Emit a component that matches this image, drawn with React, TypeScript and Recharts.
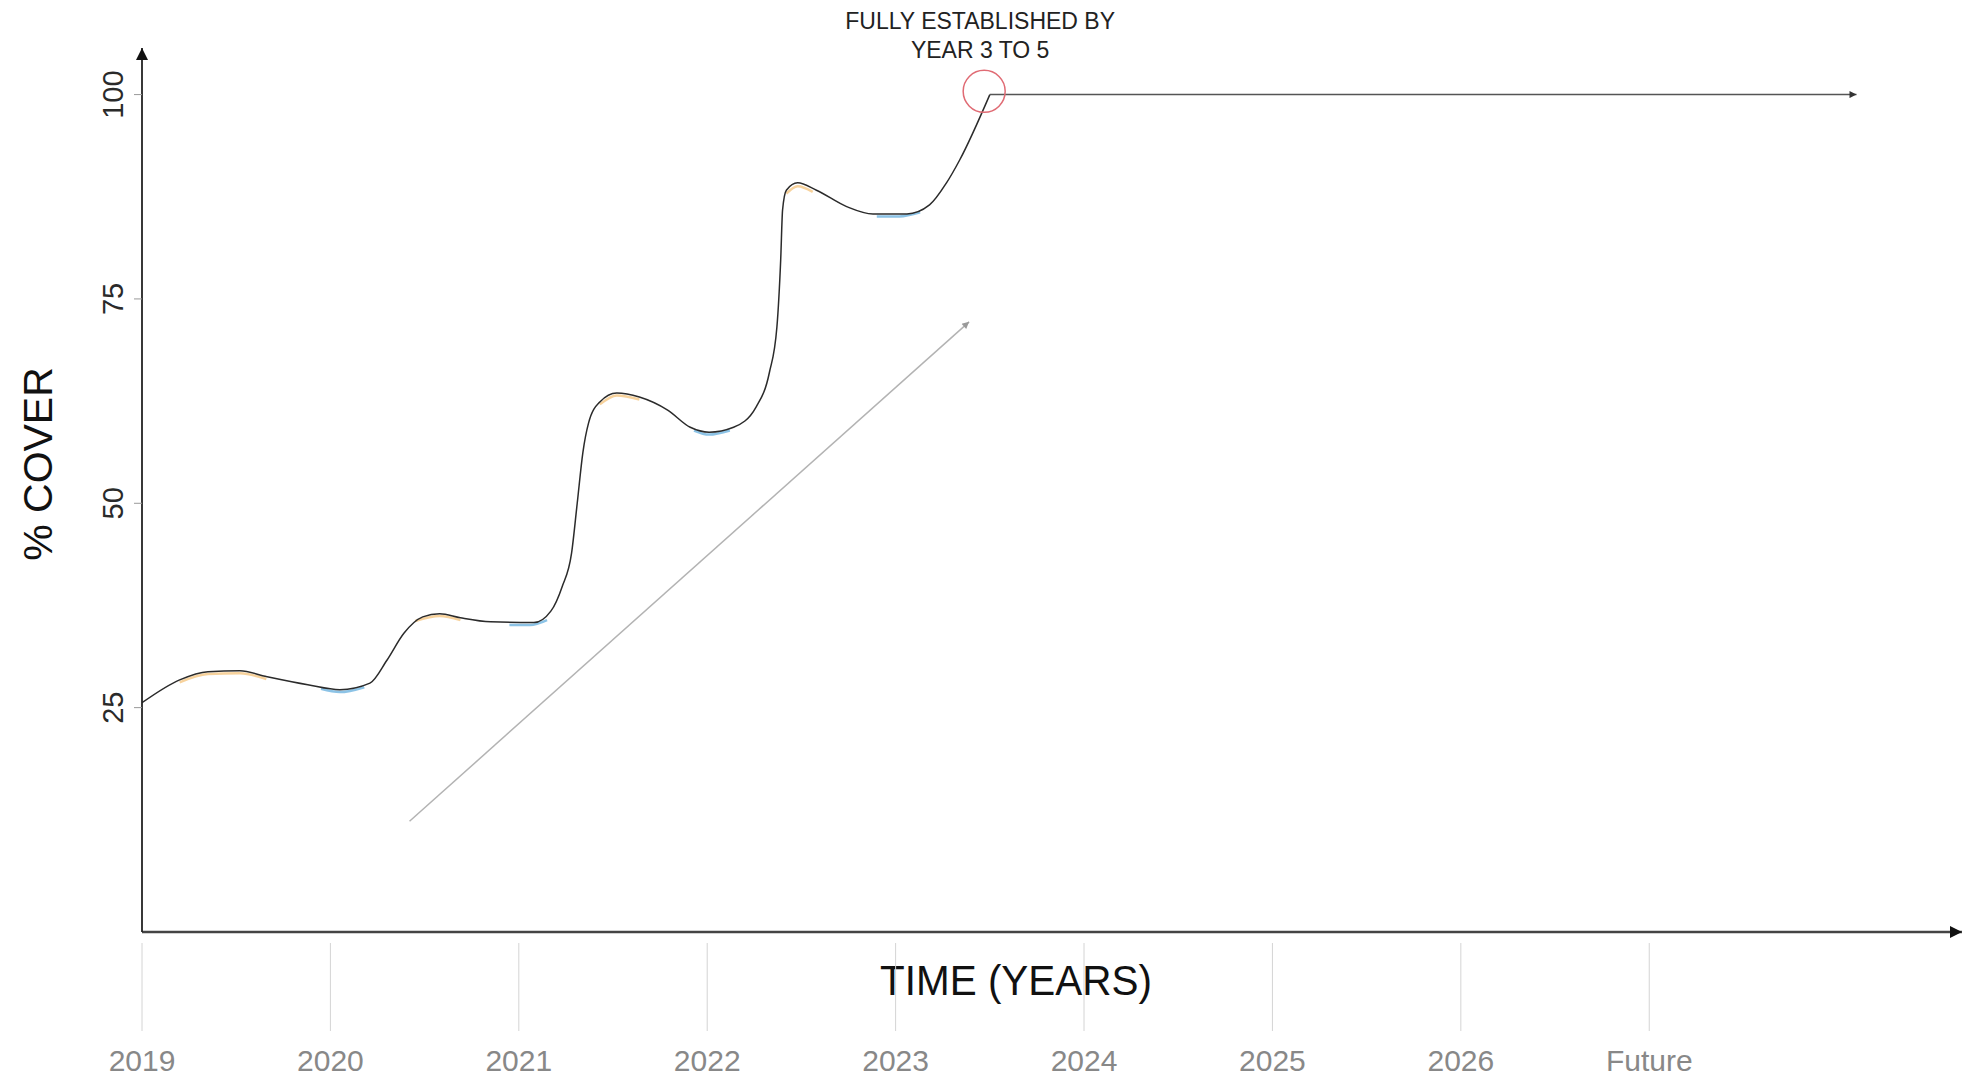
import { LineChart, Line, XAxis, YAxis, ReferenceDot, Label } from 'recharts';

// x axis: years, last slot is labelled "Future"
const yearTicks = [2019, 2020, 2021, 2022, 2023, 2024, 2025, 2026, 2027];
const yearLabels = ['2019', '2020', '2021', '2022', '2023', '2024', '2025', '2026', 'Future'];
const coverTicks = [25, 50, 75, 100];

// main cover curve
const curveTime = [
	2019.0, 2019.2, 2019.35, 2019.52, 2019.66, 2019.88, 2020.05, 2020.21, 2020.3, 2020.39,
	2020.49, 2020.58, 2020.69, 2020.85, 2021.08, 2021.17, 2021.23, 2021.28, 2021.31, 2021.34,
	2021.37, 2021.43, 2021.52, 2021.64, 2021.79, 2021.91, 2022.01, 2022.14, 2022.26, 2022.33,
	2022.37, 2022.39, 2022.4, 2022.42, 2022.48, 2022.58, 2022.74, 2022.88, 2023.06, 2023.18,
	2023.27, 2023.34, 2023.5,
];
const curveCover = [
	25.6, 28.4, 29.4, 29.5, 28.8, 27.8, 27.2, 28.0, 30.8, 34.1,
	36.1, 36.5, 36.0, 35.5, 35.4, 36.8, 39.8, 43.9, 50.0, 56.2,
	59.8, 62.4, 63.5, 63.0, 61.4, 59.3, 58.7, 59.3, 61.8, 66.0,
	71.6, 79.8, 85.9, 88.3, 89.2, 88.3, 86.3, 85.4, 85.4, 86.5,
	89.2, 92.0, 100,
];

// orange tint under the peaks (growing season)
const peakTime = [
	[2019.2, 2019.35, 2019.52, 2019.66],
	[2020.45, 2020.58, 2020.69],
	[2021.43, 2021.52, 2021.64],
	[2022.42, 2022.48, 2022.56],
];
const peakCover = [
	[28.1, 29.1, 29.2, 28.5],
	[35.6, 36.2, 35.7],
	[62.1, 63.2, 62.7],
	[87.9, 88.8, 88.1],
];

// blue tint under the troughs (dormant season)
const troughTime = [
	[2019.95, 2020.05, 2020.18],
	[2020.95, 2021.06, 2021.15],
	[2021.93, 2022.01, 2022.12],
	[2022.9, 2023.02, 2023.13],
];
const troughCover = [
	[27.3, 26.9, 27.5],
	[35.1, 35.1, 35.7],
	[58.9, 58.4, 58.9],
	[85.1, 85.1, 85.6],
];

// rising trend arrow and the "fully established" plateau
const trendTime = [2020.42, 2023.39];
const trendCover = [11.1, 72.2];
const plateauTime = [2023.5, 2028.1];
const plateauCover = [100, 100];

const establishedTime = 2023.47;
const establishedCover = 100.4;

const toPoints = (xs: number[], ys: number[]) => xs.map((t, i) => ({ t, v: ys[i] }));

const font = "'Liberation Sans', Arial, Helvetica, sans-serif";

const XTick = ({ x, y, payload }: any) => {
	const idx = yearTicks.indexOf(payload.value);
	return (
		<g>
			<line x1={x} y1={y + 11} x2={x} y2={y + 99} stroke='#d4d4d4' strokeWidth={1} />
			<text x={x} y={y + 139} textAnchor='middle' fontSize={30} fill='#888' fontFamily={font}>
				{yearLabels[idx]}
			</text>
		</g>
	);
};

const YTick = ({ x, y, payload }: any) => (
	<text
		x={x - 21}
		y={y}
		textAnchor='middle'
		dominantBaseline='central'
		fontSize={29}
		fill='#2a2a2a'
		fontFamily={font}
		transform={`rotate(-90, ${x - 21}, ${y})`}>
		{payload.value}
	</text>
);

const CoverTitle = ({ viewBox }: any) => {
	const cx = viewBox.x + 38;
	const cy = viewBox.y + viewBox.height / 2 - 26;
	return (
		<text
			x={cx}
			y={cy}
			textAnchor='middle'
			dominantBaseline='central'
			fontSize={41}
			fill='#111'
			fontFamily={font}
			transform={`rotate(-90, ${cx}, ${cy})`}>
			% COVER
		</text>
	);
};

const TimeTitle = ({ viewBox }: any) => (
	<text
		x={viewBox.x + 874}
		y={viewBox.y + 63}
		textAnchor='middle'
		fontSize={42}
		fill='#111'
		fontFamily={font}
		textLength={272}
		lengthAdjust='spacingAndGlyphs'>
		TIME (YEARS)
	</text>
);

const EstablishedNote = ({ viewBox }: any) => {
	const cx = viewBox.x + viewBox.width / 2;
	const cy = viewBox.y + viewBox.height / 2;
	return (
		<g fontFamily={font} fontSize={23} fill='#222'>
			<text x={cx - 4} y={cy - 62} textAnchor='middle'>
				FULLY ESTABLISHED BY
			</text>
			<text x={cx - 4} y={cy - 33} textAnchor='middle'>
				YEAR 3 TO 5
			</text>
		</g>
	);
};

export default function App() {
	return (
		<div style={{ position: 'absolute', left: 0, top: 0, background: '#fff', fontFamily: font }}>
			<LineChart width={1972} height={1081} margin={{ top: 48, right: 10, bottom: 0, left: 0 }}>
				<defs>
					<marker
						id='axisArrow'
						viewBox='0 0 10 10'
						refX='10'
						refY='5'
						markerWidth='14'
						markerHeight='12'
						markerUnits='userSpaceOnUse'
						orient='auto-start-reverse'>
						<path d='M0,0 L10,5 L0,10 z' fill='#111' />
					</marker>
					<marker
						id='plateauArrow'
						viewBox='0 0 10 10'
						refX='10'
						refY='5'
						markerWidth='9'
						markerHeight='7'
						markerUnits='userSpaceOnUse'
						orient='auto'>
						<path d='M0,0 L10,5 L0,10 z' fill='#333' />
					</marker>
					<marker
						id='trendArrow'
						viewBox='0 0 10 10'
						refX='10'
						refY='5'
						markerWidth='9'
						markerHeight='7'
						markerUnits='userSpaceOnUse'
						orient='auto'>
						<path d='M0,0 L10,5 L0,10 z' fill='#9a9a9a' />
					</marker>
				</defs>
				<XAxis
					dataKey='t'
					type='number'
					domain={[2019, 2028.66]}
					allowDataOverflow
					ticks={yearTicks}
					interval={0}
					height={149}
					tickSize={0}
					tickMargin={0}
					tickLine={false}
					tick={<XTick />}
					axisLine={{ stroke: '#444', strokeWidth: 2.5, markerEnd: 'url(#axisArrow)' }}>
					<Label content={<TimeTitle />} />
				</XAxis>
				<YAxis
					dataKey='v'
					type='number'
					domain={[-2.45, 105.7]}
					allowDataOverflow
					ticks={coverTicks}
					interval={0}
					width={142}
					tickSize={8}
					tickMargin={0}
					tickLine={{ stroke: '#999', strokeWidth: 1 }}
					tick={<YTick />}
					axisLine={{ stroke: '#222', strokeWidth: 1.8, markerStart: 'url(#axisArrow)' }}>
					<Label content={<CoverTitle />} />
				</YAxis>

				{peakTime.map((xs, i) => (
					<Line
						key={'peak' + i}
						data={toPoints(xs, peakCover[i])}
						dataKey='v'
						type='monotone'
						stroke='#f2b45a'
						strokeOpacity={0.6}
						strokeWidth={2.5}
						dot={false}
						activeDot={false}
						isAnimationActive={false}
					/>
				))}
				{troughTime.map((xs, i) => (
					<Line
						key={'trough' + i}
						data={toPoints(xs, troughCover[i])}
						dataKey='v'
						type='monotone'
						stroke='#4fa3d8'
						strokeOpacity={0.65}
						strokeWidth={2.5}
						dot={false}
						activeDot={false}
						isAnimationActive={false}
					/>
				))}

				<Line
					data={toPoints(curveTime, curveCover)}
					dataKey='v'
					type='monotone'
					stroke='#2b2b2b'
					strokeWidth={1.5}
					dot={false}
					activeDot={false}
					isAnimationActive={false}
				/>
				<Line
					data={toPoints(trendTime, trendCover)}
					dataKey='v'
					type='linear'
					stroke='#b3b3b3'
					strokeWidth={1.5}
					dot={false}
					activeDot={false}
					markerEnd='url(#trendArrow)'
					isAnimationActive={false}
				/>
				<Line
					data={toPoints(plateauTime, plateauCover)}
					dataKey='v'
					type='linear'
					stroke='#555'
					strokeWidth={1.5}
					dot={false}
					activeDot={false}
					markerEnd='url(#plateauArrow)'
					isAnimationActive={false}
				/>
				<ReferenceDot
					x={establishedTime}
					y={establishedCover}
					r={21}
					fill='none'
					stroke='#e06b74'
					strokeWidth={1.5}>
					<Label content={<EstablishedNote />} />
				</ReferenceDot>
			</LineChart>
		</div>
	);
}
